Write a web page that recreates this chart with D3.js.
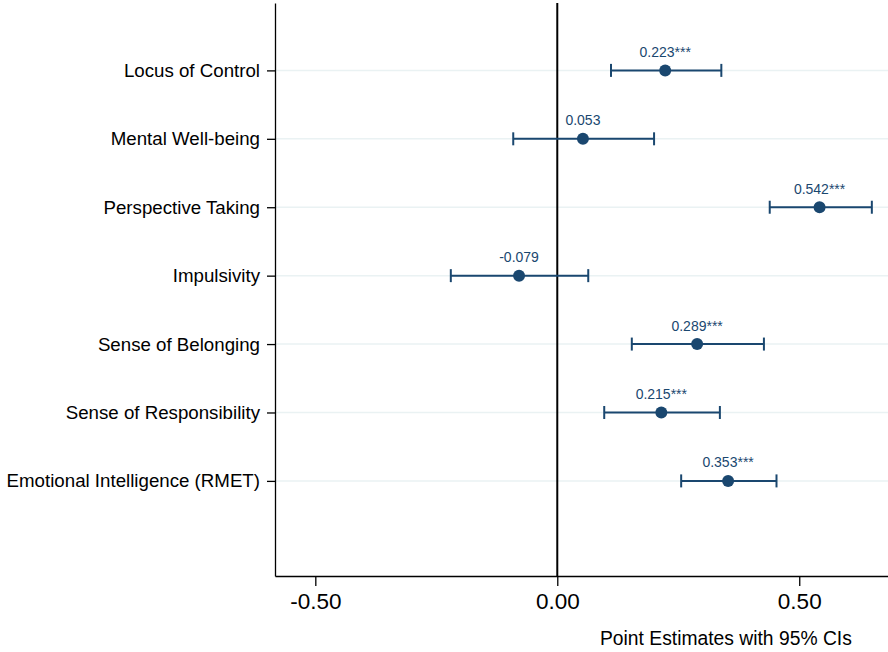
<!DOCTYPE html>
<html>
<head>
<meta charset="utf-8">
<script src="https://cdn.jsdelivr.net/npm/d3@7"></script>
<style>
  html, body { margin: 0; padding: 0; background: #fff; }
  svg { display: block; font-family: "Liberation Sans", Arial, Helvetica, sans-serif; }
</style>
</head>
<body>
<svg id="chart" width="888" height="652"></svg>
<script>
// ---- data ----
const categories = ["Locus of Control", "Mental Well-being", "Perspective Taking", "Impulsivity",
                    "Sense of Belonging", "Sense of Responsibility", "Emotional Intelligence (RMET)"];
const estimates = [0.223, 0.053, 0.542, -0.079, 0.289, 0.215, 0.353];
const ciLow  = [0.111, -0.091, 0.439, -0.220, 0.154, 0.097, 0.256];
const ciHigh = [0.339, 0.200, 0.650, 0.064, 0.427, 0.336, 0.453];
const stars = ["***", "", "***", "", "***", "***", "***"];
const xTicks = [-0.5, 0, 0.5];
const xTitle = "Point Estimates with 95% CIs";

(function () {
// ---- layout ----
const svg = d3.select("#chart");
const pLeft = 275, pRight = 888, pTop = 3, pBottom = 576;
const navy = "#1a476f";
const fmt = p => v => d3.format(p)(v).replace("\u2212", "-");

const x = d3.scaleLinear().domain([-0.5833, 0.6834]).range([pLeft, pRight]);
const y = d3.scaleLinear().domain([0.015, 8.39]).range([pTop, pBottom]);

// gridlines
svg.append("g").selectAll("line").data(categories).join("line")
  .attr("x1", pLeft).attr("x2", pRight)
  .attr("y1", (d, i) => y(i + 1)).attr("y2", (d, i) => y(i + 1))
  .attr("stroke", "#eaf2f3").attr("stroke-width", 1.5);

// x axis
const xAxis = d3.axisBottom(x).tickValues(xTicks).tickFormat(fmt(".2f")).tickSize(10).tickSizeOuter(0);
const gx = svg.append("g").attr("transform", `translate(0,${pBottom})`).call(xAxis);
gx.select(".domain").attr("stroke", "#000").attr("stroke-width", 1.3);
gx.selectAll(".tick line").attr("stroke", "#000").attr("stroke-width", 1.3);
gx.selectAll(".tick text").attr("font-size", "22.5px").attr("fill", "#000")
  .attr("y", 17).attr("dy", "0.71em").attr("font-family", "'Liberation Sans', Arial, sans-serif");

// y axis
const yAxis = d3.axisLeft(y).tickValues(categories.map((d, i) => i + 1))
  .tickFormat(i => categories[i - 1]).tickSize(8).tickSizeOuter(0);
const gy = svg.append("g").attr("transform", `translate(${pLeft},0)`).call(yAxis);
gy.select(".domain").attr("stroke", "#000").attr("stroke-width", 1.3);
gy.selectAll(".tick line").attr("stroke", "#000").attr("stroke-width", 1.3);
gy.selectAll(".tick text").attr("font-size", "18.7px").attr("fill", "#000")
  .attr("x", -15).attr("font-family", "'Liberation Sans', Arial, sans-serif");

// zero line
svg.append("line").attr("x1", x(0)).attr("x2", x(0)).attr("y1", pTop).attr("y2", pBottom)
  .attr("stroke", "#000").attr("stroke-width", 2);

// CIs
const g = svg.append("g");
categories.forEach((c, i) => {
  const yy = y(i + 1);
  g.append("line").attr("x1", x(ciLow[i])).attr("x2", x(ciHigh[i])).attr("y1", yy).attr("y2", yy)
    .attr("stroke", navy).attr("stroke-width", 2);
  [ciLow[i], ciHigh[i]].forEach(v => {
    g.append("line").attr("x1", x(v)).attr("x2", x(v)).attr("y1", yy - 6.5).attr("y2", yy + 6.5)
      .attr("stroke", navy).attr("stroke-width", 2);
  });
  g.append("circle").attr("cx", x(estimates[i])).attr("cy", yy).attr("r", 6).attr("fill", navy);
  g.append("text").attr("x", x(estimates[i])).attr("y", yy - 13.5)
    .attr("text-anchor", "middle").attr("font-size", "14px").attr("fill", navy)
    .text(fmt(".3f")(estimates[i]) + stars[i]);
});

// x title
svg.append("text").attr("x", 600).attr("y", 645).attr("text-anchor", "start")
  .attr("font-size", "19.3px").attr("fill", "#000").text(xTitle);
})();
</script>
</body>
</html>
